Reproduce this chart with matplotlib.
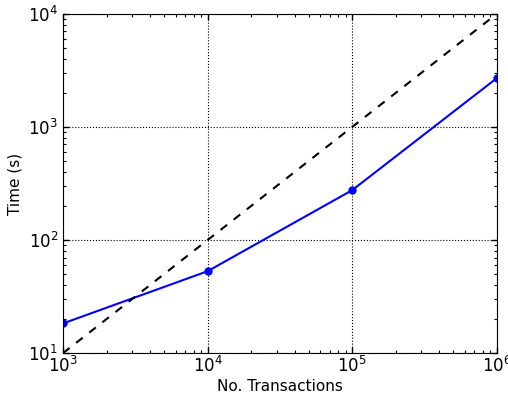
import matplotlib
matplotlib.use("Agg")
import matplotlib.pyplot as plt

# measured run times
n_transactions = [1e3, 1e4, 1e5, 1e6]
time_s = [18.3, 53, 276, 2700]

# linear reference line
ref_x = [1e3, 1e6]
ref_y = [10, 1e4]

fig = plt.figure(figsize=(5.08, 3.95), dpi=100)
ax = fig.add_axes([0.124, 0.106, 0.854, 0.859])

ax.plot(n_transactions, time_s, color='blue', lw=1.5, marker='o', ms=5, mec='blue')
ax.plot(ref_x, ref_y, 'k--', lw=1.5, dashes=(4, 4))

ax.set_xscale('log')
ax.set_yscale('log')
ax.set_xlim(1e3, 1e6)
ax.set_ylim(10, 1e4)

ax.grid(True, which='major', color='black', linestyle=':', linewidth=0.8)
ax.tick_params(which='both', direction='in', top=True, right=True, labelsize=12)
ax.tick_params(which='major', length=4, width=1)
ax.tick_params(which='minor', length=2, width=0.8)
ax.tick_params(axis='x', pad=2)

ax.set_xlabel('No. Transactions', fontsize=11, labelpad=2)
ax.set_ylabel('Time (s)', fontsize=11)

fig.savefig('out.png', dpi=100)
